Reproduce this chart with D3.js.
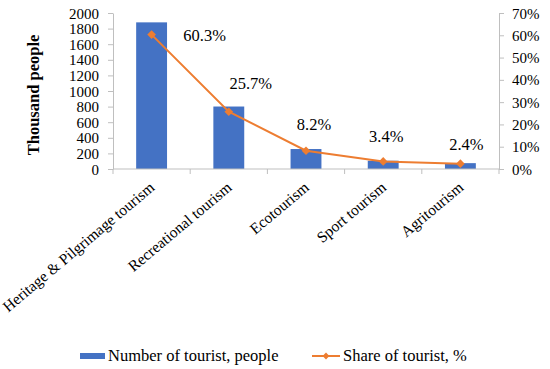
<!DOCTYPE html>
<html>
<head>
<meta charset="utf-8">
<script src="https://cdn.jsdelivr.net/npm/d3@7"></script>
<style>
  body { margin: 0; background: #fff; }
</style>
</head>
<body>
<div class="canvas"></div>
<script>
// chart data
let categories = ['Heritage & Pilgrimage tourism', 'Recreational tourism', 'Ecotourism', 'Sport tourism', 'Agritourism'];
let tourists = [1880, 801, 256, 106, 75];
let shares = [0.603, 0.257, 0.082, 0.034, 0.024];
let shareLabels = ['60.3%', '25.7%', '8.2%', '3.4%', '2.4%'];
let leftTicks = [0, 200, 400, 600, 800, 1000, 1200, 1400, 1600, 1800, 2000];
let rightTicks = [0, 0.1, 0.2, 0.3, 0.4, 0.5, 0.6, 0.7];
let seriesNames = ['Number of tourist, people', 'Share of tourist, %'];

let width = 550, height = 369;
const plot = { left: 113, right: 499, top: 13, bottom: 169 };
const barColor = '#4472C4', lineColor = '#ED7D31', axisColor = '#bfbfbf';
const fontSize = '16.5px';
const serif = '"Liberation Serif", "Times New Roman", Times, serif';
// label nudges (dx, dy from marker), layout only
const labelNudge = [[53, 6], [22, -23], [8, -21], [3, -19], [6, -14]];

let svg = d3.select('.canvas').append('svg')
  .attr('width', width)
  .attr('height', height)
  .attr('font-family', serif)
  .style('font-family', serif);

let xScale = d3.scaleBand()
  .domain(categories)
  .range([plot.left, plot.right])
  .padding(0);
let bw = xScale.bandwidth();
let cx = d => xScale(d) + bw / 2;

let yLeft = d3.scaleLinear().domain([0, 2000]).range([plot.bottom, plot.top]);
let yRight = d3.scaleLinear().domain([0, 0.7]).range([plot.bottom, plot.top]);

// bars
svg.append('g').selectAll('rect')
  .data(categories)
  .enter()
  .append('rect')
  .attr('x', d => cx(d) - bw * 0.2)
  .attr('width', bw * 0.4)
  .attr('y', (d, i) => yLeft(tourists[i]))
  .attr('height', (d, i) => plot.bottom - yLeft(tourists[i]))
  .attr('fill', barColor);

// left axis
let leftAxis = svg.append('g')
  .attr('transform', `translate(${plot.left},0)`)
  .call(d3.axisLeft(yLeft).tickValues(leftTicks).tickFormat(d3.format('d')).tickSize(5).tickPadding(9).tickSizeOuter(0));

// right axis
let rightAxis = svg.append('g')
  .attr('transform', `translate(${plot.right},0)`)
  .call(d3.axisRight(yRight).tickValues(rightTicks).tickFormat(d3.format('.0%')).tickSize(5).tickPadding(8).tickSizeOuter(0));

[leftAxis, rightAxis].forEach(a => {
  a.attr('font-family', serif).attr('font-size', '15px');
  a.selectAll('text').attr('dy', '0.34em').style('font-family', serif);
  a.select('.domain').attr('stroke', axisColor);
  a.selectAll('.tick line').attr('stroke', axisColor);
});

// bottom axis line + category ticks at boundaries
svg.append('line')
  .attr('x1', plot.left).attr('x2', plot.right)
  .attr('y1', plot.bottom).attr('y2', plot.bottom)
  .attr('stroke', axisColor);
let bounds = categories.map(d => xScale(d)).concat([xScale(categories[categories.length - 1]) + bw]);
svg.append('g').selectAll('line')
  .data(bounds)
  .enter()
  .append('line')
  .attr('x1', d => d).attr('x2', d => d)
  .attr('y1', plot.bottom).attr('y2', plot.bottom + 5)
  .attr('stroke', axisColor);

// category labels
svg.append('g').selectAll('text')
  .data(categories)
  .enter()
  .append('text')
  .attr('transform', d => `translate(${cx(d) + 4},${plot.bottom + 20}) rotate(-40)`)
  .attr('text-anchor', 'end')
  .style('font-family', serif)
  .style('font-size', '15.5px')
  .text(d => d);

// share line
let line = d3.line()
  .x((d, i) => cx(categories[i]))
  .y(d => yRight(d));
svg.append('path')
  .datum(shares)
  .attr('d', line)
  .attr('fill', 'none')
  .attr('stroke', lineColor)
  .attr('stroke-width', 2);

let diamond = d3.symbol().type(d3.symbolDiamond2).size(48);
svg.append('g').selectAll('path')
  .data(shares)
  .enter()
  .append('path')
  .attr('d', diamond)
  .attr('transform', (d, i) => `translate(${cx(categories[i])},${yRight(d)})`)
  .attr('fill', lineColor);

// data labels
svg.append('g').selectAll('text')
  .data(shares)
  .enter()
  .append('text')
  .attr('x', (d, i) => cx(categories[i]) + labelNudge[i][0])
  .attr('y', (d, i) => yRight(d) + labelNudge[i][1])
  .attr('text-anchor', 'middle')
  .style('font-family', serif)
  .style('font-size', fontSize)
  .text((d, i) => shareLabels[i]);

// y axis title
svg.append('text')
  .attr('transform', `translate(39,${(plot.top + plot.bottom) / 2 + 4}) rotate(-90)`)
  .attr('text-anchor', 'middle')
  .style('font-family', serif)
  .style('font-size', fontSize)
  .style('font-weight', 'bold')
  .text('Thousand people');

// legend
let legend = svg.append('g').attr('transform', 'translate(0,356)');
legend.append('rect')
  .attr('x', 80).attr('y', -3).attr('width', 25).attr('height', 6)
  .attr('fill', barColor);
legend.append('text')
  .attr('x', 108).attr('y', 5)
  .style('font-family', serif)
  .style('font-size', fontSize)
  .text(seriesNames[0]);
legend.append('line')
  .attr('x1', 312).attr('x2', 340).attr('y1', 0).attr('y2', 0)
  .attr('stroke', lineColor).attr('stroke-width', 2);
legend.append('path')
  .attr('d', d3.symbol().type(d3.symbolDiamond2).size(30))
  .attr('transform', 'translate(326,0)')
  .attr('fill', lineColor);
legend.append('text')
  .attr('x', 343).attr('y', 5)
  .style('font-family', serif)
  .style('font-size', fontSize)
  .text(seriesNames[1]);
</script>
</body>
</html>
